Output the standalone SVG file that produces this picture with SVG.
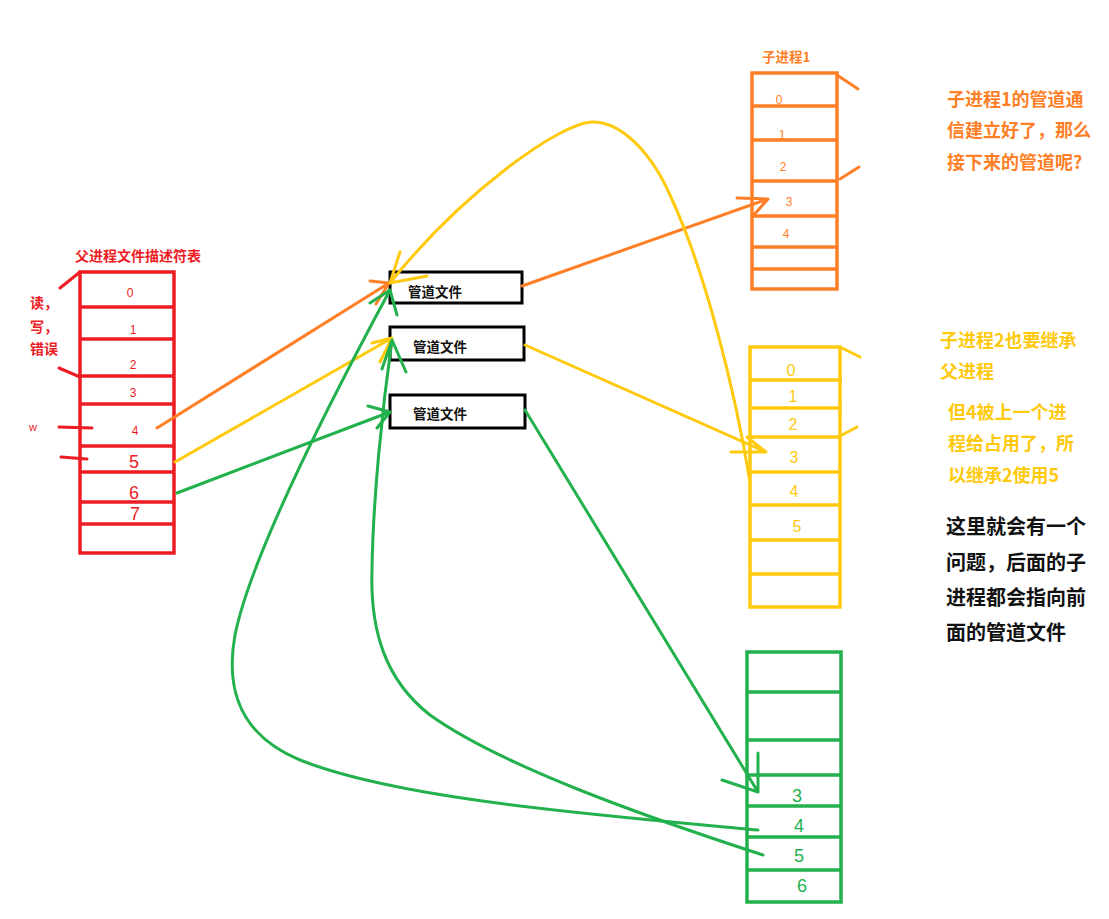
<svg xmlns="http://www.w3.org/2000/svg" width="1109" height="919" viewBox="0 0 1109 919">
<style>
.t{font-family:"Noto Sans CJK SC","Liberation Sans",sans-serif;font-weight:bold}
.d{font-family:"Liberation Sans","Noto Sans CJK SC",sans-serif;text-anchor:middle}
.ln{fill:none;stroke-width:3;stroke-linecap:round;stroke-linejoin:round}
.tb{fill:none;stroke-width:3.5}
.red{stroke:#ED1C24}.org{stroke:#FF7F27}.yel{stroke:#FFC90E}.grn{stroke:#22B14C}
</style>
<rect width="1109" height="919" fill="#fff"/>

<g id="parent-table">
<text class="t" x="75" y="261" font-size="14" fill="#ED1C24">父进程文件描述符表</text>
<rect class="tb red" x="80" y="272" width="94" height="281"/>
<path class="tb red" d="M80 307H174M80 339H174M80 376H174M80 404H174M80 446H174M80 472H174M80 502H174M80 524H174"/>
<g class="d" fill="#ED1C24">
<text x="130" y="297" font-size="12">0</text>
<text x="133" y="334" font-size="12">1</text>
<text x="133" y="369" font-size="12">2</text>
<text x="133" y="397" font-size="12">3</text>
<text x="135" y="435" font-size="12">4</text>
<text x="134" y="468" font-size="18">5</text>
<text x="134" y="499" font-size="18">6</text>
<text x="135" y="520" font-size="18">7</text>
</g>
<g class="t" font-size="14" fill="#ED1C24">
<text x="30" y="308">读，</text>
<text x="30" y="332">写，</text>
<text x="30" y="354">错误</text>
</g>
<text x="29" y="431" font-family="Liberation Sans, sans-serif" font-size="11" fill="#ED1C24">w</text>
<path class="ln red" stroke-width="3.5" d="M60 288L80 272M59 368L80 377M59 427L92 428M61 457L87 459"/>
</g>

<g id="pipe1">
<rect x="390" y="272" width="132" height="31" fill="#fff" stroke="#000" stroke-width="3"/>
<text class="t" x="408" y="297" font-size="13.5" fill="#111">管道文件</text>
</g>
<g id="pipe2">
<rect x="390" y="327" width="134" height="33" fill="#fff" stroke="#000" stroke-width="3"/>
<text class="t" x="413" y="352" font-size="13.5" fill="#111">管道文件</text>
</g>
<g id="pipe3">
<rect x="390" y="395" width="135" height="33" fill="#fff" stroke="#000" stroke-width="3"/>
<text class="t" x="413" y="419" font-size="13.5" fill="#111">管道文件</text>
</g>

<g id="child1-table">
<text class="t" x="762" y="62" font-size="13.5" fill="#FF7F27">子进程1</text>
<rect class="tb org" x="752" y="73" width="85" height="216"/>
<path class="tb org" d="M752 106H837M752 140H837M752 181H837M752 216H837M752 247H837M752 269H837"/>
<path class="ln org" stroke-width="3.5" d="M837 75L858 89M840 179L859 167"/>
<g class="d" fill="#FF7F27" font-size="12">
<text x="779" y="104">0</text>
<text x="782" y="139">1</text>
<text x="783" y="171">2</text>
<text x="789" y="206">3</text>
<text x="786" y="238">4</text>
</g>
<g class="t" font-size="18" fill="#FF7F27">
<text x="947" y="106">子进程1的管道通</text>
<text x="947" y="137">信建立好了，那么</text>
<text x="947" y="169">接下来的管道呢?</text>
</g>
</g>

<g id="child2-table">
<rect class="tb yel" x="750" y="347" width="90" height="260"/>
<path class="tb yel" d="M750 380H842M750 408H842M750 437H840M750 472H840M750 505H840M750 540H840M750 574H840"/>
<path class="ln yel" stroke-width="3.5" d="M842 348L860 357M842 435L857 427"/>
<g class="d" fill="#FFC90E" font-size="16">
<text x="791" y="376">0</text>
<text x="793" y="402">1</text>
<text x="793" y="430">2</text>
<text x="794" y="463">3</text>
<text x="794" y="497">4</text>
<text x="797" y="532">5</text>
</g>
<g class="t" font-size="18" fill="#FFC90E">
<text x="940" y="347">子进程2也要继承</text>
<text x="940" y="378">父进程</text>
<text x="948" y="419">但4被上一个进</text>
<text x="948" y="450">程给占用了，所</text>
<text x="948" y="482">以继承2使用5</text>
</g>
</g>

<g id="child3-table">
<rect class="tb grn" x="747" y="652" width="94" height="250"/>
<path class="tb grn" d="M747 692H841M747 740H841M747 775H841M747 806H841M747 837H841M747 870H841"/>
<g class="d" fill="#22B14C" font-size="18">
<text x="797" y="802">3</text>
<text x="799" y="832">4</text>
<text x="799" y="862">5</text>
<text x="802" y="892">6</text>
</g>
</g>

<g id="note">
<g class="t" font-size="20" fill="#111">
<text x="946" y="534">这里就会有一个</text>
<text x="946" y="570">问题，后面的子</text>
<text x="946" y="605">进程都会指向前</text>
<text x="946" y="640">面的管道文件</text>
</g>
</g>

<g id="connectors">
<path class="ln org" d="M157 428L389 283M370 281L389 283L376 304"/>
<path class="ln org" d="M522 286L768 199M737 198L768 199L752 217"/>
<path class="ln yel" d="M175 462L392 338M372 343L392 338L380 362"/>
<path class="ln yel" d="M525 345L766 452M731 452L766 452L747 437"/>
<path class="ln yel" d="M750 482C735 390 705 270 670 195C650 150 620 122 593 122C560 122 460 195 390 283M400 252L390 283L427 276"/>
<path class="ln grn" d="M177 493L390 412M368 406L390 412L377 428"/>
<path class="ln grn" d="M525 410L758 792M758 753L758 792L722 780"/>
<path class="ln grn" d="M758 830C600 815 400 800 300 760C240 735 225 690 235 635C250 560 320 420 390 290M370 303L390 290L397 315"/>
<path class="ln grn" d="M763 855C640 815 500 765 430 715C385 680 370 630 372 570C373 500 382 410 392 340M382 369L392 340L406 372"/>
</g>
</svg>
